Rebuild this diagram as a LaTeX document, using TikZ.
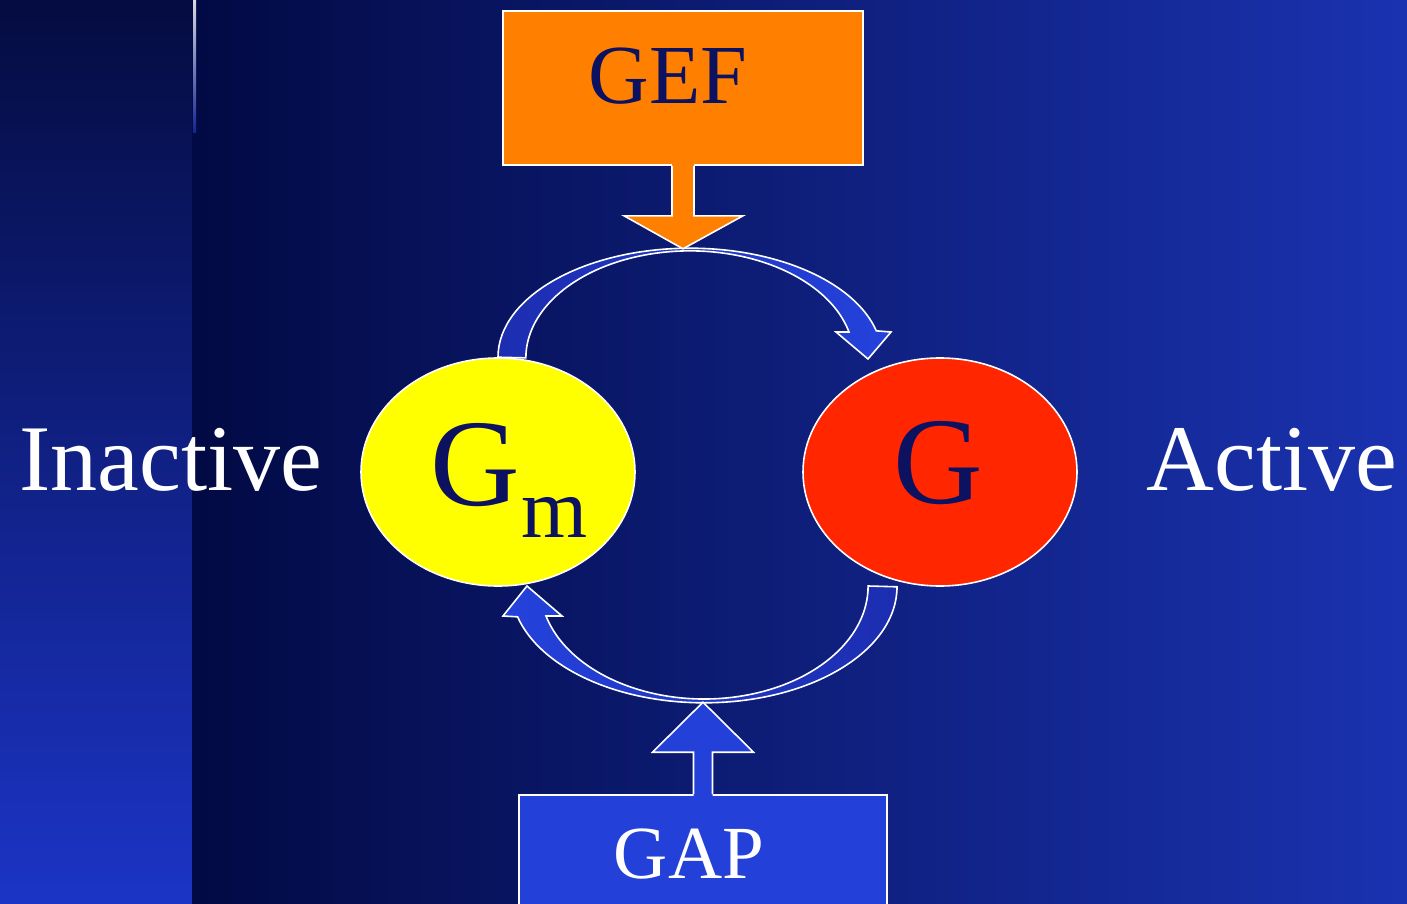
\documentclass[tikz,border=0pt]{standalone}
\usepackage{fontspec}
\setmainfont{Liberation Serif}
\usetikzlibrary{shapes.geometric,calc}
\definecolor{bgtop}{HTML}{040C40}
\definecolor{bgbot}{HTML}{1C34C6}
\definecolor{bgleft}{HTML}{020A44}
\definecolor{bgright}{HTML}{1A32B0}
\definecolor{navy}{HTML}{0C1160}
\definecolor{gefor}{HTML}{FF8000}
\definecolor{gapblue}{HTML}{2340D8}
\definecolor{arrdark}{HTML}{1C2DB0}
\definecolor{arrlight}{HTML}{2442DC}
\definecolor{gyellow}{HTML}{FFFF00}
\definecolor{gred}{HTML}{FF2600}
\tikzset{
  outl/.style={draw=white, line width=1.6pt},
  boxnode/.style={outl, rectangle, inner sep=0pt},
  statenode/.style={outl, ellipse, inner sep=0pt, minimum width=274pt, minimum height=228pt},
  labeltext/.style={inner sep=0pt, anchor=base},
  curvedarrow/.style={draw=white, line width=1.6pt, line join=miter}
}
\begin{document}
\begin{tikzpicture}[x=1pt,y=-1pt]
\useasboundingbox (0,0) rectangle (1407,904);
\clip (0,0) rectangle (1407,904);
% background
\shade[top color=bgtop, bottom color=bgbot] (0,0) rectangle (192,904);
\shade[left color=bgleft, right color=bgright] (192,0) rectangle (1407,904);
\shade[top color=white!85!bgtop, bottom color=bgbot!60!bgtop] (193,0) rectangle (196,133);

% state ellipses
\node[statenode, fill=gyellow] (gm) at (498,472) {};
\node[statenode, fill=gred] (g) at (940,472) {};

% curved arrows
\shadedraw[curvedarrow, left color=arrdark, right color=arrlight]
  (gm.north) arc[start angle=180, end angle=346, x radius=192, y radius=109]
  -- (891,332) -- (868,359) -- (836,332) -- (849,332)
  arc[start angle=346, end angle=180, x radius=164, y radius=107] -- cycle;
\shadedraw[curvedarrow, left color=arrlight, right color=arrdark]
  ($(g.south)+(-43,0)$) arc[start angle=0, end angle=165, x radius=193, y radius=116]
  -- (503,616) -- (527,586) -- (562,616) -- (546,616)
  arc[start angle=164.6, end angle=0, x radius=164, y radius=113] -- cycle;

% GEF box and arrow
\node[boxnode, fill=gefor, minimum width=360pt, minimum height=154pt] (gef) at (683,88) {};
\begin{scope}[shift={(gef.south)}]
  \fill[gefor] (-11,-3) -- (-11,50) -- (-59,50) -- (0,83) -- (60,50) -- (11,50) -- (11,-3) -- cycle;
  \draw[outl, line join=miter] (-11,0) -- (-11,50) -- (-59,50) -- (0,83) -- (60,50) -- (11,50) -- (11,0);
\end{scope}

% GAP box and arrow
\node[boxnode, fill=gapblue, minimum width=368pt, minimum height=115pt] (gap) at (703,852.5) {};
\begin{scope}[shift={(gap.north)}]
  \fill[gapblue] (-9.5,3) -- (-9.5,-42) -- (-50.5,-42) -- (0,-92) -- (50.5,-42) -- (9.5,-42) -- (9.5,3) -- cycle;
  \draw[outl, line join=miter] (-9.5,0) -- (-9.5,-42) -- (-50.5,-42) -- (0,-92) -- (50.5,-42) -- (9.5,-42) -- (9.5,0);
\end{scope}

% texts
\node[labeltext, text=navy, font=\fontsize{84}{84}\selectfont] (geftext) at (668,104) {GEF};
\node[labeltext, text=white, font=\fontsize{75}{75}\selectfont] (gaptext) at (689,878) {GAP};
\node[labeltext, text=white, font=\fontsize{94}{94}\selectfont] (inactive) at (171,490) {Inactive};
\node[labeltext, text=white, font=\fontsize{94}{94}\selectfont] (active) at (1272,490) {Active};
\node[labeltext, text=navy, font=\fontsize{124}{124}\selectfont] (gtext) at (938.5,503) {G};
\node[inner sep=0pt, anchor=base west, text=navy] (gmtext) at (430,505)
  {\fontsize{124}{124}\selectfont G\kern2pt\raisebox{-32pt}{\fontsize{85}{85}\selectfont m}};
\end{tikzpicture}
\end{document}
